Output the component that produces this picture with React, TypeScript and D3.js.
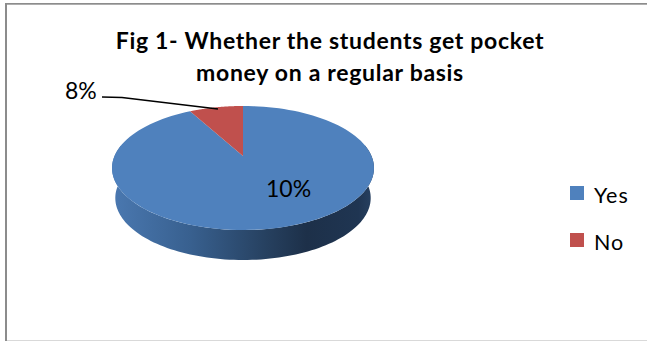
import React from "react";
import * as d3 from "d3";

const categories = ["Yes", "No"];
const sliceValues = [92, 8];
const sliceLabels = ["10%", "8%"];
const sliceColors = ["#4f81bd", "#c0504d"];
const titleLines = ["Fig 1- Whether the students get pocket", "money on a regular basis"];

const W = 647;
const H = 341;
const FONT = "Lato, 'Open Sans', sans-serif";

// Perspective projection of the unit disc onto the tilted pie top.
const CX = 243;
const HUB_Y = 156;
const TILT = 0.1935;
const SPAN_Y = -29.5;
const SPAN_X = 128.5;
const DEPTH = 30;

const project = (angle: number): [number, number] => {
  const u = Math.sin(angle);
  const v = Math.cos(angle);
  const w = 1 + TILT * v;
  return [CX + (SPAN_X * u) / w, (SPAN_Y * v + HUB_Y) / w];
};

const sweep = (a0: number, a1: number): [number, number][] =>
  d3.range(0, 121).map((i) => project(a0 + ((a1 - a0) * i) / 120));

const line = d3.line();

export default function App() {
  const pie = d3.pie<number>().sort(null)(sliceValues);
  // Slices run clockwise from 12 o'clock; "No" ends at the top, just left of it.
  const topPaths = pie.map((s) =>
    line([[CX, HUB_Y], ...sweep(s.startAngle, s.endAngle)])! + "Z"
  );

  // Rim: front half of the top outline joined to a slightly narrower lower outline.
  const front = sweep(Math.PI / 2 - 0.19, (3 * Math.PI) / 2 + 0.19);
  const lowerScale = 0.975;
  const lower = front
    .slice()
    .reverse()
    .map(([x, y]): [number, number] => [CX + (x - CX) * lowerScale, y + DEPTH]);
  const rim = line([...front, ...lower])! + "Z";

  const legendY = d3.scalePoint<string>().domain(categories).range([186, 233]);

  return (
    <svg
      width={W}
      height={H}
      viewBox={`0 0 ${W} ${H}`}
      style={{ position: "absolute", left: 0, top: 0, background: "#fff" }}
    >
      <defs>
        <linearGradient id="rimShade" gradientUnits="userSpaceOnUse" x1={113} x2={371} y1={0} y2={0}>
          <stop offset="0" stopColor="#4a78b0" />
          <stop offset="0.3" stopColor="#38608f" />
          <stop offset="0.6" stopColor="#26405f" />
          <stop offset="0.75" stopColor="#1d3049" />
          <stop offset="0.95" stopColor="#1f3552" />
          <stop offset="1" stopColor="#263f5f" />
        </linearGradient>
      </defs>

      {/* Frame: heavier top and left edges, faint bottom edge, open on the right */}
      <rect x={5} y={340} width={W - 5} height={1} fill="#d9d9d9" />
      <rect x={5} y={3} width={W - 5} height={1.7} fill="#8c8c8c" />
      <rect x={5} y={3} width={2} height={H - 3} fill="#8c8c8c" />

      <g fontFamily={FONT} fontWeight={700} fontSize={23} letterSpacing={0.7} fill="#000" textAnchor="middle">
        {titleLines.map((t, i) => (
          <text key={t} x={330} y={49 + i * 32}>
            {t}
          </text>
        ))}
      </g>

      <path d={rim} fill="url(#rimShade)" />
      {topPaths.map((d, i) => (
        <path key={categories[i]} d={d} fill={sliceColors[i]} />
      ))}

      <g fontFamily={FONT} fontSize={23} fill="#000">
        <text x={266} y={197}>{sliceLabels[0]}</text>
        <text x={65} y={99}>{sliceLabels[1]}</text>
      </g>
      <polyline points="102,97 122,97.5 218,109" fill="none" stroke="#000" strokeWidth={1.5} />

      {categories.map((c, i) => {
        const y = legendY(c)!;
        return (
          <g key={c}>
            <rect x={570} y={y} width={14} height={14} fill={sliceColors[i]} />
            <text x={594} y={y + 17} fontFamily={FONT} fontSize={21.5} letterSpacing={1} fill="#000">
              {c}
            </text>
          </g>
        );
      })}
    </svg>
  );
}
